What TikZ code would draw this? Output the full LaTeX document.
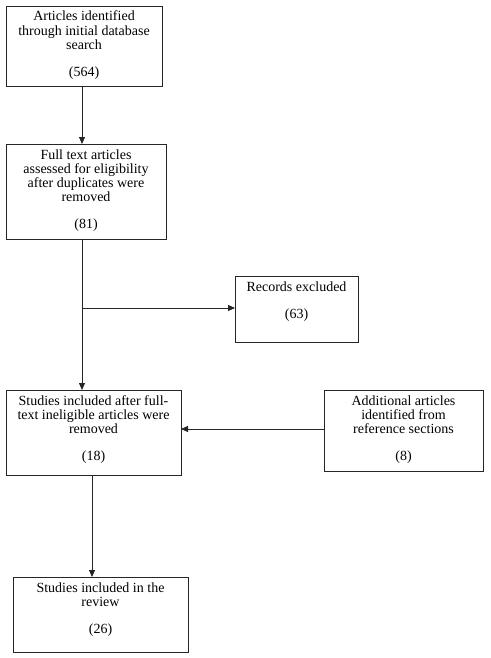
\documentclass[tikz,border=0pt]{standalone}
\usepackage{fontspec}
\setmainfont{Liberation Serif}
\usetikzlibrary{arrows.meta}
\newcommand\bxtext[3]{\begin{minipage}[t][#2][t]{#1}\centering\rule{0pt}{15pt}#3\end{minipage}}
\tikzset{
  box/.style={draw=black!85, line width=0.8pt, inner sep=0pt, outer sep=0pt, anchor=north west, font=\fontsize{14}{14.2}\selectfont},
  arr/.style={draw=black!85, line width=0.8pt, -{Triangle[length=7pt,width=6pt]}},
  ln/.style={draw=black!85, line width=0.8pt}
}
\begin{document}
\begin{tikzpicture}[x=1pt,y=-1pt]
\useasboundingbox[fill=white] (0,0) rectangle (490,658);
\node[box] (b1) at (6,6) {\bxtext{156pt}{80pt}{Articles identified\\through initial database\\search\\[12.8pt](564)}};
\node[box] (b2) at (6,144) {\bxtext{160pt}{95pt}{Full text articles\\assessed for eligibility\\after duplicates were\\removed\\[12.8pt](81)}};
\node[box] (rec) at (235,276) {\bxtext{123pt}{66pt}{Records excluded\\[12.8pt](63)}};
\node[box] (b3) at (6,390) {\bxtext{175pt}{85pt}{Studies included after full-\\text ineligible articles were\\removed\\[12.8pt](18)}};
\node[box] (add) at (324,390) {\bxtext{159pt}{81pt}{Additional articles\\identified from\\reference sections\\[12.8pt](8)}};
\node[box] (fin) at (13,577) {\bxtext{175pt}{75pt}{Studies included in the\\review\\[12.8pt](26)}};
\coordinate (c1) at (82,0);
\coordinate (c2) at (92,0);
\coordinate (br) at (82,308);
\coordinate (ya) at (0,429);
\draw[arr] (b1.south -| c1) -- (b2.north -| c1);
\draw[arr] (b2.south -| c1) -- (b3.north -| c1);
\draw[arr] (br) -- (rec.west |- br);
\draw[arr] (add.west |- ya) -- (b3.east |- ya);
\draw[arr] (b3.south -| c2) -- (fin.north -| c2);
\end{tikzpicture}
\end{document}
